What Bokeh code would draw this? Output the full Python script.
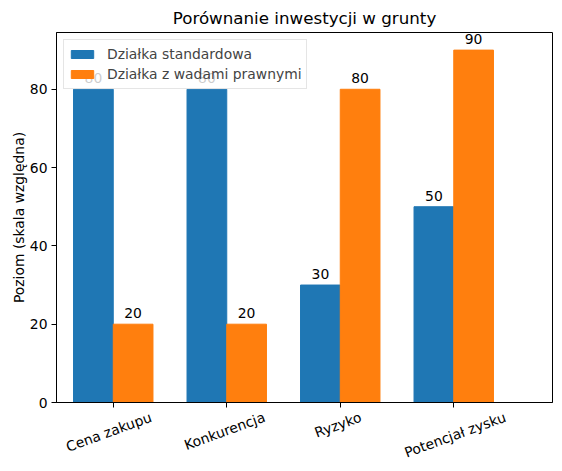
import math
from bokeh.plotting import figure
from bokeh.models import (ColumnDataSource, Range1d, FixedTicker, Legend, LegendItem,
                          LinearAxis, CustomJSTickFormatter)
from bokeh.core.properties import value
from bokeh.embed import file_html
from bokeh.resources import INLINE

categories = ["Cena zakupu", "Konkurencja", "Ryzyko", "Potencjał zysku"]
standard = [80, 80, 30, 50]
defects = [20, 20, 80, 90]
series_names = ["Działka standardowa", "Działka z wadami prawnymi"]
colors = ["#1f77b4", "#ff7f0e"]
yticks = [0, 20, 40, 60, 80]

FONT = "DejaVu Sans"
FS = "13.9px"
width = 0.35
rot = math.radians(20)
x0, x1 = -0.5, 3.87
frame_w = 496

idx = list(range(len(categories)))
src_std = ColumnDataSource(dict(x=[i - width / 2 for i in idx], top=standard,
                                lbl=[str(v) for v in standard]))
src_def = ColumnDataSource(dict(x=[i + width / 2 for i in idx], top=defects,
                                lbl=[str(v) for v in defects]))

p = figure(frame_width=frame_w, frame_height=370,
           min_border_left=56, min_border_right=1, min_border_top=24, min_border_bottom=10,
           x_range=Range1d(x0, x1), y_range=Range1d(0, 94.5),
           x_axis_location=None,
           output_backend="svg", toolbar_location=None,
           title="Porównanie inwestycji w grunty")

p.title.text_font = FONT
p.title.text_font_size = "16.7px"
p.title.text_font_style = "normal"
p.title.align = "center"
p.title.text_color = "black"

r1 = p.vbar(x="x", top="top", width=width, source=src_std, color=colors[0])
r2 = p.vbar(x="x", top="top", width=width, source=src_def, color=colors[1])

for src in (src_std, src_def):
    p.text(x="x", y="top", text="lbl", source=src, y_offset=-6,
           text_align="center", text_baseline="bottom",
           text_font=value(FONT), text_font_size=FS, text_color="black")

p.grid.visible = False
p.outline_line_color = "black"
p.outline_line_width = 1

# axis with the tick marks only
tick_axis = LinearAxis(ticker=FixedTicker(ticks=idx),
                       formatter=CustomJSTickFormatter(code="return ''"),
                       axis_line_color="black", major_tick_line_color="black",
                       major_tick_out=5, major_tick_in=0, minor_tick_line_color=None,
                       major_label_standoff=0, major_label_text_font_size="1px")
p.add_layout(tick_axis, "below")

# axis with rotated labels; Bokeh anchors a rotated label at its right end,
# so shift each anchor by half the label's horizontal extent to centre it on the tick
px_per_unit = frame_w / (x1 - x0)
label_pos = [i + (len(c) * 7.3 * math.cos(rot) / 2) / px_per_unit for i, c in enumerate(categories)]
label_axis = LinearAxis(ticker=FixedTicker(ticks=label_pos),
                        formatter=CustomJSTickFormatter(args=dict(labels=categories),
                                                        code="return labels[index]"),
                        axis_line_color=None, major_tick_line_color=None,
                        major_tick_out=0, major_tick_in=0, minor_tick_line_color=None,
                        major_label_standoff=9, major_label_orientation=rot,
                        major_label_text_font=FONT, major_label_text_font_size=FS,
                        major_label_text_color="black")
p.add_layout(label_axis, "below")

p.yaxis.ticker = FixedTicker(ticks=yticks)
p.yaxis.minor_tick_line_color = None
p.yaxis.axis_label = "Poziom (skala względna)"
p.yaxis.axis_label_text_font_style = "normal"
p.yaxis.axis_label_standoff = 0
p.yaxis.axis_line_color = "black"
p.yaxis.major_tick_line_color = "black"
p.yaxis.major_tick_out = 5
p.yaxis.major_tick_in = 0
p.yaxis.major_label_standoff = 4
p.yaxis.major_label_text_font = FONT
p.yaxis.major_label_text_font_size = FS
p.yaxis.major_label_text_color = "black"
p.yaxis.axis_label_text_font = FONT
p.yaxis.axis_label_text_font_size = FS
p.yaxis.axis_label_text_color = "black"

legend = Legend(items=[LegendItem(label=series_names[0], renderers=[r1]),
                       LegendItem(label=series_names[1], renderers=[r2])],
                location="top_left", margin=7, padding=4, spacing=0,
                glyph_width=28, glyph_height=10, label_height=20, label_standoff=11,
                label_text_font=FONT, label_text_font_size=FS,
                border_line_color="#cccccc", background_fill_alpha=0.8)
p.add_layout(legend)

open("out.html", "w").write(file_html(p, INLINE))
